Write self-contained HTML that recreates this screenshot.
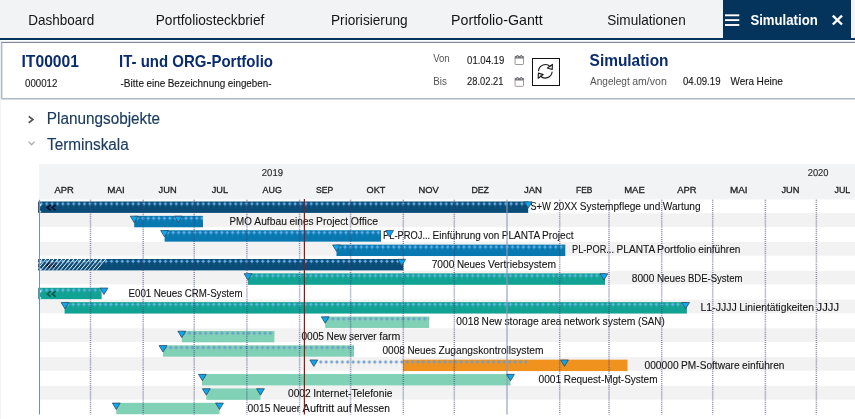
<!DOCTYPE html>
<html lang="de">
<head>
<meta charset="utf-8">
<title>Simulation</title>
<style>
html,body{margin:0;padding:0;background:#ffffff;overflow:hidden}
svg{display:block}
svg text{font-family:'Liberation Sans', sans-serif;white-space:pre}
</style>
</head>
<body>
<svg width="855" height="419" viewBox="0 0 855 419">
<defs>
<pattern id="dD" patternUnits="userSpaceOnUse" x="0.5" y="0" width="5.4" height="7">
<path d="M2.7,-0.2 L3.25,1.75 L5.3,2.3 L3.25,2.85 L2.7,5.0 L2.15,2.85 L0.1,2.3 L2.15,1.75 Z" fill="#ffffff" fill-opacity="0.33"/>
<path d="M2.7,0.65 L4.35,2.3 L2.7,3.95 L1.05,2.3 Z" fill="#64b0ee"/>
<rect x="2.4" y="5.3" width="0.7" height="0.5" fill="#ffffff" fill-opacity="0.22"/>
</pattern>
<pattern id="dL" patternUnits="userSpaceOnUse" x="-0.4" y="0" width="5.4" height="7">
<path d="M2.7,0.35 L4.7,2.35 L2.7,4.35 L0.7,2.35 Z" fill="#8193a6" fill-opacity="0.7"/>
<path d="M2.7,0.95 L4.1,2.35 L2.7,3.75 L1.3,2.35 Z" fill="#5aa1e6"/>
<rect x="2.4" y="5.3" width="0.7" height="0.5" fill="#6a7a88" fill-opacity="0.35"/>
</pattern>
<pattern id="hatch" patternUnits="userSpaceOnUse" width="3.05" height="3.05" patternTransform="rotate(-50)">
<rect x="0" y="0" width="3.05" height="0.8" fill="#ffffff" fill-opacity="0.9"/>
</pattern>
</defs>
<rect x="0" y="0" width="855" height="419" fill="#ffffff"/>
<rect x="0" y="0" width="855" height="38" fill="#f1f3f5"/>
<rect x="0" y="38" width="855" height="2" fill="#04345c"/>
<rect x="723" y="0" width="128" height="40" fill="#04345c"/>
<text x="28.3" y="25.0" font-size="14.2" fill="#141414" textLength="66.0" lengthAdjust="spacingAndGlyphs">Dashboard</text>
<text x="155.7" y="25.0" font-size="14.2" fill="#141414" textLength="108.6" lengthAdjust="spacingAndGlyphs">Portfoliosteckbrief</text>
<text x="331.0" y="25.0" font-size="14.2" fill="#141414" textLength="76.7" lengthAdjust="spacingAndGlyphs">Priorisierung</text>
<text x="451.0" y="25.0" font-size="14.2" fill="#141414" textLength="91.7" lengthAdjust="spacingAndGlyphs">Portfolio-Gantt</text>
<text x="607.3" y="25.0" font-size="14.2" fill="#141414" textLength="78.4" lengthAdjust="spacingAndGlyphs">Simulationen</text>
<text x="750.4" y="25.0" font-size="14.2" font-weight="bold" fill="#ffffff" textLength="67.4" lengthAdjust="spacingAndGlyphs">Simulation</text>
<g stroke="#ffffff" stroke-width="1.9"><line x1="725" y1="15.3" x2="739.3" y2="15.3"/><line x1="725" y1="20.1" x2="739.3" y2="20.1"/><line x1="725" y1="25" x2="739.3" y2="25"/></g>
<g stroke="#ffffff" stroke-width="2.4" stroke-linecap="butt"><line x1="832.8" y1="15.7" x2="842" y2="24.5"/><line x1="842" y1="15.7" x2="832.8" y2="24.5"/></g>
<rect x="0" y="40" width="1" height="379" fill="#f3f4f6"/>
<rect x="1.6" y="42.4" width="870" height="56.4" fill="#ffffff"/>
<rect x="0.9" y="42.4" width="1.5" height="56.4" rx="0.5" fill="#b0b8c4"/>
<rect x="1.4" y="98.0" width="870" height="1.5" rx="0.5" fill="#b0b8c4"/>
<rect x="1.2" y="41.8" width="870" height="1.2" fill="#828a9b"/>
<text x="21.5" y="66.8" font-size="16.5" font-weight="bold" fill="#0a2c6e" textLength="57.5" lengthAdjust="spacingAndGlyphs">IT00001</text>
<text x="25.0" y="86.9" font-size="10.5" fill="#1a1a1a" textLength="32.3" lengthAdjust="spacingAndGlyphs" stroke="#1a1a1a" stroke-width="0.12">000012</text>
<text x="119.0" y="67.0" font-size="16.5" font-weight="bold" fill="#0a2c6e" textLength="154.0" lengthAdjust="spacingAndGlyphs">IT- und ORG-Portfolio</text>
<text y="86.8" font-size="10.5" fill="#161616" stroke="#161616" stroke-width="0.12"><tspan x="120.5" textLength="23.5" lengthAdjust="spacingAndGlyphs">-Bitte</tspan> <tspan x="146.5" textLength="18.7" lengthAdjust="spacingAndGlyphs">eine</tspan> <tspan x="167.7" textLength="57.6" lengthAdjust="spacingAndGlyphs">Bezeichnung</tspan> <tspan x="227.8" textLength="43.7" lengthAdjust="spacingAndGlyphs">eingeben-</tspan></text>
<text x="433.2" y="61.7" font-size="10.2" fill="#555555" textLength="16.5" lengthAdjust="spacingAndGlyphs">Von</text>
<text x="433.2" y="84.6" font-size="10.2" fill="#555555" textLength="13.6" lengthAdjust="spacingAndGlyphs">Bis</text>
<text x="467.1" y="63.5" font-size="10.4" fill="#1a1a1a" textLength="37.1" lengthAdjust="spacingAndGlyphs" stroke="#1a1a1a" stroke-width="0.12">01.04.19</text>
<text x="467.1" y="85.1" font-size="10.4" fill="#1a1a1a" textLength="36.3" lengthAdjust="spacingAndGlyphs" stroke="#1a1a1a" stroke-width="0.12">28.02.21</text>
<text x="589.6" y="66.4" font-size="16.5" font-weight="bold" fill="#0a2c6e" textLength="78.9" lengthAdjust="spacingAndGlyphs">Simulation</text>
<text y="84.8" font-size="10.5" fill="#555555"><tspan x="590.0" textLength="39.7" lengthAdjust="spacingAndGlyphs">Angelegt</tspan> <tspan x="632.2" textLength="34.6" lengthAdjust="spacingAndGlyphs">am/von</tspan></text>
<text x="683.0" y="84.8" font-size="10.5" fill="#161616" textLength="37.5" lengthAdjust="spacingAndGlyphs" stroke="#161616" stroke-width="0.12">04.09.19</text>
<text y="84.8" font-size="10.5" fill="#161616" stroke="#161616" stroke-width="0.12"><tspan x="730.5" textLength="23.6" lengthAdjust="spacingAndGlyphs">Wera</tspan> <tspan x="756.6" textLength="26.4" lengthAdjust="spacingAndGlyphs">Heine</tspan></text>
<g><rect x="515.1" y="57.6" width="8.4" height="6.9" rx="0.7" fill="#ffffff" stroke="#8c8683" stroke-width="0.85"/><rect x="514.7" y="56.1" width="9.2" height="2.5" rx="0.7" fill="#74757b"/><rect x="516.4" y="55.1" width="2.1" height="2.2" rx="0.8" fill="#74757b"/><rect x="520.2" y="55.1" width="2.1" height="2.2" rx="0.8" fill="#74757b"/><rect x="517.0" y="56.2" width="0.9" height="1.5" fill="#a9c3d6"/><rect x="520.8" y="56.2" width="0.9" height="1.5" fill="#d2c79a"/></g>
<g><rect x="515.1" y="79.4" width="8.4" height="6.9" rx="0.7" fill="#ffffff" stroke="#8c8683" stroke-width="0.85"/><rect x="514.7" y="77.9" width="9.2" height="2.5" rx="0.7" fill="#74757b"/><rect x="516.4" y="76.9" width="2.1" height="2.2" rx="0.8" fill="#74757b"/><rect x="520.2" y="76.9" width="2.1" height="2.2" rx="0.8" fill="#74757b"/><rect x="517.0" y="78.0" width="0.9" height="1.5" fill="#a9c3d6"/><rect x="520.8" y="78.0" width="0.9" height="1.5" fill="#d2c79a"/></g>
<rect x="532.5" y="58.5" width="27" height="27" fill="#ffffff" stroke="#111111" stroke-width="1"/>
<g fill="none" stroke="#1c1c1c" stroke-width="1.15" stroke-linecap="round" stroke-linejoin="round"><g id="rf"><path d="M538.5,70.6 A6.9,6.9 0 0 1 550.2,66.6"/><path d="M552.4,64.4 L552.2,69.5 L547.4,68.0 Z"/></g><use href="#rf" transform="rotate(180 545.3 71.3)"/></g>
<polyline points="28.7,116.4 32.9,119.6 28.7,122.8" fill="none" stroke="#505050" stroke-width="1.7"/>
<text x="46.8" y="123.8" font-size="16" fill="#1b3c60" textLength="113.2" lengthAdjust="spacingAndGlyphs" stroke="#1b3c60" stroke-width="0.15">Planungsobjekte</text>
<polyline points="28.6,141.6 31.6,144.8 34.6,141.6" fill="none" stroke="#a8a8a8" stroke-width="1.3"/>
<text x="47.0" y="149.6" font-size="16" fill="#1b3c60" textLength="81.8" lengthAdjust="spacingAndGlyphs" stroke="#1b3c60" stroke-width="0.15">Terminskala</text>
<rect x="39.0" y="164" width="816.0" height="35.4" fill="#f2f3f4"/>
<rect x="39.0" y="213.28" width="816.0" height="13.6" fill="#f2f2f2"/>
<rect x="39.0" y="242.04" width="816.0" height="13.6" fill="#f2f2f2"/>
<rect x="39.0" y="270.80" width="816.0" height="13.6" fill="#f2f2f2"/>
<rect x="39.0" y="299.56" width="816.0" height="13.6" fill="#f2f2f2"/>
<rect x="39.0" y="328.32" width="816.0" height="13.6" fill="#f2f2f2"/>
<rect x="39.0" y="357.08" width="816.0" height="13.6" fill="#f2f2f2"/>
<rect x="39.0" y="385.84" width="816.0" height="13.6" fill="#f2f2f2"/>
<text x="261.8" y="176.1" font-size="10" fill="#1c1c1c" textLength="21.2" lengthAdjust="spacingAndGlyphs" text-rendering="geometricPrecision" stroke="#1c1c1c" stroke-width="0.1">2019</text>
<text x="807.7" y="176.1" font-size="10" fill="#1c1c1c" textLength="20.8" lengthAdjust="spacingAndGlyphs" text-rendering="geometricPrecision" stroke="#1c1c1c" stroke-width="0.1">2020</text>
<text x="54.6" y="192.6" font-size="9.5" fill="#222222" textLength="19.3" lengthAdjust="spacingAndGlyphs" stroke="#222222" stroke-width="0.3">APR</text>
<text x="107.2" y="192.6" font-size="9.5" fill="#222222" textLength="17.5" lengthAdjust="spacingAndGlyphs" stroke="#222222" stroke-width="0.3">MAI</text>
<text x="158.6" y="192.6" font-size="9.5" fill="#222222" textLength="18.0" lengthAdjust="spacingAndGlyphs" stroke="#222222" stroke-width="0.3">JUN</text>
<text x="211.7" y="192.6" font-size="9.5" fill="#222222" textLength="16.3" lengthAdjust="spacingAndGlyphs" stroke="#222222" stroke-width="0.3">JUL</text>
<text x="262.6" y="192.6" font-size="9.5" fill="#222222" textLength="19.3" lengthAdjust="spacingAndGlyphs" stroke="#222222" stroke-width="0.3">AUG</text>
<text x="316.0" y="192.6" font-size="9.5" fill="#222222" textLength="17.3" lengthAdjust="spacingAndGlyphs" stroke="#222222" stroke-width="0.3">SEP</text>
<text x="366.6" y="192.6" font-size="9.5" fill="#222222" textLength="18.8" lengthAdjust="spacingAndGlyphs" stroke="#222222" stroke-width="0.3">OKT</text>
<text x="418.5" y="192.6" font-size="9.5" fill="#222222" textLength="20.3" lengthAdjust="spacingAndGlyphs" stroke="#222222" stroke-width="0.3">NOV</text>
<text x="471.4" y="192.6" font-size="9.5" fill="#222222" textLength="17.5" lengthAdjust="spacingAndGlyphs" stroke="#222222" stroke-width="0.3">DEZ</text>
<text x="524.0" y="192.6" font-size="9.5" fill="#222222" textLength="18.0" lengthAdjust="spacingAndGlyphs" stroke="#222222" stroke-width="0.3">JAN</text>
<text x="576.1" y="192.6" font-size="9.5" fill="#222222" textLength="16.3" lengthAdjust="spacingAndGlyphs" stroke="#222222" stroke-width="0.3">FEB</text>
<text x="624.2" y="192.6" font-size="9.5" fill="#222222" textLength="20.6" lengthAdjust="spacingAndGlyphs" stroke="#222222" stroke-width="0.3">MAE</text>
<text x="677.3" y="192.6" font-size="9.5" fill="#222222" textLength="19.3" lengthAdjust="spacingAndGlyphs" stroke="#222222" stroke-width="0.3">APR</text>
<text x="730.0" y="192.6" font-size="9.5" fill="#222222" textLength="17.5" lengthAdjust="spacingAndGlyphs" stroke="#222222" stroke-width="0.3">MAI</text>
<text x="781.4" y="192.6" font-size="9.5" fill="#222222" textLength="18.0" lengthAdjust="spacingAndGlyphs" stroke="#222222" stroke-width="0.3">JUN</text>
<text x="834.5" y="192.6" font-size="9.5" fill="#222222" textLength="15.8" lengthAdjust="spacingAndGlyphs" stroke="#222222" stroke-width="0.3">JUL</text>
<rect x="38.1" y="201.50" width="490.1" height="11.4" fill="#0a4c78"/>
<svg x="38.1" y="201.50" width="490.1" height="7"><rect x="0" y="0" width="1000" height="7" fill="url(#dD)"/></svg>
<g fill="none" stroke="#06122a" stroke-width="1.6"><polyline points="50.7,204.9 47.2,207.6 50.7,210.3"/><polyline points="55.7,204.9 52.2,207.6 55.7,210.3"/></g>
<path d="M39.9,204.1 L41.7,204.4 L39.9,206.9 Z M39.9,209.9 L41.6,212.2 L39.9,212.4 Z" fill="#ffffff" fill-opacity="0.85"/>
<text y="210.3" font-size="10" fill="#141414" stroke="#141414" stroke-width="0.1"><tspan x="530.3" textLength="20.6" lengthAdjust="spacingAndGlyphs">S+W</tspan> <tspan x="553.4" textLength="23.9" lengthAdjust="spacingAndGlyphs">20XX</tspan> <tspan x="579.8" textLength="61.2" lengthAdjust="spacingAndGlyphs">Systempflege</tspan> <tspan x="643.5" textLength="16.8" lengthAdjust="spacingAndGlyphs">und</tspan> <tspan x="662.8" textLength="37.8" lengthAdjust="spacingAndGlyphs">Wartung</tspan></text>
<rect x="134.2" y="215.88" width="68.8" height="11.4" fill="#0878b0"/>
<svg x="134.2" y="215.88" width="68.8" height="7"><rect x="0" y="0" width="1000" height="7" fill="url(#dD)"/></svg>
<text y="224.7" font-size="10" fill="#141414" stroke="#141414" stroke-width="0.1"><tspan x="229.5" textLength="22.3" lengthAdjust="spacingAndGlyphs">PMO</tspan> <tspan x="254.3" textLength="32.6" lengthAdjust="spacingAndGlyphs">Aufbau</tspan> <tspan x="289.5" textLength="24.1" lengthAdjust="spacingAndGlyphs">eines</tspan> <tspan x="316.1" textLength="32.1" lengthAdjust="spacingAndGlyphs">Project</tspan> <tspan x="350.8" textLength="27.2" lengthAdjust="spacingAndGlyphs">Office</tspan></text>
<rect x="164.6" y="230.26" width="216.4" height="11.4" fill="#0878b0"/>
<svg x="164.6" y="230.26" width="216.4" height="7"><rect x="0" y="0" width="1000" height="7" fill="url(#dD)"/></svg>
<text y="239.1" font-size="10" fill="#141414" stroke="#141414" stroke-width="0.1"><tspan x="383.0" textLength="47.2" lengthAdjust="spacingAndGlyphs">PL-PROJ...</tspan> <tspan x="432.6" textLength="48.1" lengthAdjust="spacingAndGlyphs">Einführung</tspan> <tspan x="483.2" textLength="16.1" lengthAdjust="spacingAndGlyphs">von</tspan> <tspan x="501.8" textLength="37.8" lengthAdjust="spacingAndGlyphs">PLANTA</tspan> <tspan x="542.0" textLength="31.6" lengthAdjust="spacingAndGlyphs">Project</tspan></text>
<rect x="336.5" y="244.64" width="228.8" height="11.4" fill="#0878b0"/>
<svg x="336.5" y="244.64" width="228.8" height="7"><rect x="0" y="0" width="1000" height="7" fill="url(#dD)"/></svg>
<text y="253.4" font-size="10" fill="#141414" stroke="#141414" stroke-width="0.1"><tspan x="572.0" textLength="42.0" lengthAdjust="spacingAndGlyphs">PL-POR...</tspan> <tspan x="616.5" textLength="38.1" lengthAdjust="spacingAndGlyphs">PLANTA</tspan> <tspan x="657.1" textLength="38.7" lengthAdjust="spacingAndGlyphs">Portfolio</tspan> <tspan x="698.3" textLength="42.2" lengthAdjust="spacingAndGlyphs">einführen</tspan></text>
<rect x="38.1" y="259.02" width="365.3" height="11.4" fill="#0a4c78"/>
<svg x="38.1" y="259.02" width="365.3" height="7"><rect x="0" y="0" width="1000" height="7" fill="url(#dD)"/></svg>
<g fill="none" stroke="#1a1030" stroke-width="1.6"><polyline points="50.7,262.4 47.2,265.1 50.7,267.8"/><polyline points="55.7,262.4 52.2,265.1 55.7,267.8"/></g>
<path d="M39.9,261.6 L41.7,261.9 L39.9,264.4 Z M39.9,267.4 L41.6,269.7 L39.9,269.9 Z" fill="#ffffff" fill-opacity="0.85"/>
<path d="M38.1,259.02 L106.8,259.02 L97.2,270.42 L38.1,270.42 Z" fill="url(#hatch)"/>
<text y="267.8" font-size="10" fill="#141414" stroke="#141414" stroke-width="0.1"><tspan x="431.7" textLength="22.7" lengthAdjust="spacingAndGlyphs">7000</tspan> <tspan x="456.9" textLength="28.6" lengthAdjust="spacingAndGlyphs">Neues</tspan> <tspan x="488.0" textLength="68.0" lengthAdjust="spacingAndGlyphs">Vertriebsystem</tspan></text>
<rect x="248.0" y="273.40" width="357.0" height="11.4" fill="#10a394"/>
<svg x="248.0" y="273.40" width="357.0" height="7"><rect x="0" y="0" width="1000" height="7" fill="url(#dD)"/></svg>
<text y="282.2" font-size="10" fill="#141414" stroke="#141414" stroke-width="0.1"><tspan x="631.8" textLength="22.6" lengthAdjust="spacingAndGlyphs">8000</tspan> <tspan x="656.9" textLength="28.5" lengthAdjust="spacingAndGlyphs">Neues</tspan> <tspan x="687.9" textLength="54.6" lengthAdjust="spacingAndGlyphs">BDE-System</tspan></text>
<rect x="38.1" y="287.78" width="63.5" height="11.4" fill="#10a394"/>
<svg x="38.1" y="287.78" width="63.5" height="7"><rect x="0" y="0" width="1000" height="7" fill="url(#dD)"/></svg>
<g fill="none" stroke="#0a5a48" stroke-width="1.6"><polyline points="50.7,291.2 47.2,293.9 50.7,296.6"/><polyline points="55.7,291.2 52.2,293.9 55.7,296.6"/></g>
<path d="M39.9,290.4 L41.7,290.7 L39.9,293.2 Z M39.9,296.2 L41.6,298.5 L39.9,298.7 Z" fill="#ffffff" fill-opacity="0.85"/>
<text y="296.6" font-size="10" fill="#141414" stroke="#141414" stroke-width="0.1"><tspan x="128.5" textLength="22.7" lengthAdjust="spacingAndGlyphs">E001</tspan> <tspan x="153.7" textLength="28.6" lengthAdjust="spacingAndGlyphs">Neues</tspan> <tspan x="184.8" textLength="57.7" lengthAdjust="spacingAndGlyphs">CRM-System</tspan></text>
<rect x="64.6" y="302.16" width="622.3" height="11.4" fill="#10a394"/>
<svg x="64.6" y="302.16" width="622.3" height="7"><rect x="0" y="0" width="1000" height="7" fill="url(#dD)"/></svg>
<text y="311.0" font-size="10" fill="#141414" stroke="#141414" stroke-width="0.1"><tspan x="700.4" textLength="36.4" lengthAdjust="spacingAndGlyphs">L1-JJJJ</tspan> <tspan x="739.3" textLength="74.7" lengthAdjust="spacingAndGlyphs">Linientätigkeiten</tspan> <tspan x="816.6" textLength="22.4" lengthAdjust="spacingAndGlyphs">JJJJ</tspan></text>
<rect x="325.2" y="316.54" width="104.0" height="11.4" fill="#80d1b6"/>
<svg x="325.2" y="316.54" width="104.0" height="7"><rect x="0" y="0" width="1000" height="7" fill="url(#dL)"/></svg>
<text y="325.3" font-size="10" fill="#141414" stroke="#141414" stroke-width="0.1"><tspan x="456.3" textLength="22.8" lengthAdjust="spacingAndGlyphs">0018</tspan> <tspan x="481.6" textLength="20.3" lengthAdjust="spacingAndGlyphs">New</tspan> <tspan x="504.4" textLength="34.4" lengthAdjust="spacingAndGlyphs">storage</tspan> <tspan x="541.3" textLength="19.9" lengthAdjust="spacingAndGlyphs">area</tspan> <tspan x="563.7" textLength="36.3" lengthAdjust="spacingAndGlyphs">network</tspan> <tspan x="602.5" textLength="32.9" lengthAdjust="spacingAndGlyphs">system</tspan> <tspan x="637.9" textLength="26.9" lengthAdjust="spacingAndGlyphs">(SAN)</tspan></text>
<rect x="181.8" y="330.92" width="92.6" height="11.4" fill="#80d1b6"/>
<svg x="181.8" y="330.92" width="92.6" height="7"><rect x="0" y="0" width="1000" height="7" fill="url(#dL)"/></svg>
<text y="339.7" font-size="10" fill="#141414" stroke="#141414" stroke-width="0.1"><tspan x="301.4" textLength="22.6" lengthAdjust="spacingAndGlyphs">0005</tspan> <tspan x="326.5" textLength="20.1" lengthAdjust="spacingAndGlyphs">New</tspan> <tspan x="349.1" textLength="27.6" lengthAdjust="spacingAndGlyphs">server</tspan> <tspan x="379.2" textLength="21.2" lengthAdjust="spacingAndGlyphs">farm</tspan></text>
<rect x="163.0" y="345.30" width="191.0" height="11.4" fill="#80d1b6"/>
<svg x="163.0" y="345.30" width="191.0" height="7"><rect x="0" y="0" width="1000" height="7" fill="url(#dL)"/></svg>
<text y="354.1" font-size="10" fill="#141414" stroke="#141414" stroke-width="0.1"><tspan x="382.4" textLength="22.5" lengthAdjust="spacingAndGlyphs">0008</tspan> <tspan x="407.4" textLength="28.5" lengthAdjust="spacingAndGlyphs">Neues</tspan> <tspan x="438.4" textLength="105.1" lengthAdjust="spacingAndGlyphs">Zugangskontrollsystem</tspan></text>
<rect x="403.0" y="359.68" width="224.5" height="11.4" fill="#f0921e"/>
<svg x="313.1" y="359.68" width="213.9" height="7"><rect x="0" y="0" width="1000" height="7" fill="url(#dL)"/></svg>
<text y="368.5" font-size="10" fill="#141414" stroke="#141414" stroke-width="0.1"><tspan x="644.5" textLength="34.1" lengthAdjust="spacingAndGlyphs">000000</tspan> <tspan x="681.1" textLength="58.5" lengthAdjust="spacingAndGlyphs">PM-Software</tspan> <tspan x="742.1" textLength="42.4" lengthAdjust="spacingAndGlyphs">einführen</tspan></text>
<rect x="202.0" y="374.06" width="308.5" height="11.4" fill="#80d1b6"/>
<text y="382.9" font-size="10" fill="#141414" stroke="#141414" stroke-width="0.1"><tspan x="538.5" textLength="22.7" lengthAdjust="spacingAndGlyphs">0001</tspan> <tspan x="563.7" textLength="93.8" lengthAdjust="spacingAndGlyphs">Request-Mgt-System</tspan></text>
<rect x="206.3" y="388.44" width="54.2" height="11.4" fill="#80d1b6"/>
<text y="397.2" font-size="10" fill="#141414" stroke="#141414" stroke-width="0.1"><tspan x="288.0" textLength="22.7" lengthAdjust="spacingAndGlyphs">0002</tspan> <tspan x="313.2" textLength="79.3" lengthAdjust="spacingAndGlyphs">Internet-Telefonie</tspan></text>
<rect x="116.3" y="402.82" width="103.2" height="11.4" fill="#80d1b6"/>
<text y="411.6" font-size="10" fill="#141414" stroke="#141414" stroke-width="0.1"><tspan x="247.5" textLength="22.9" lengthAdjust="spacingAndGlyphs">0015</tspan> <tspan x="272.9" textLength="27.2" lengthAdjust="spacingAndGlyphs">Neuer</tspan> <tspan x="302.6" textLength="31.7" lengthAdjust="spacingAndGlyphs">Auftritt</tspan> <tspan x="336.9" textLength="14.7" lengthAdjust="spacingAndGlyphs">auf</tspan> <tspan x="354.1" textLength="35.9" lengthAdjust="spacingAndGlyphs">Messen</tspan></text>
<line x1="39.5" y1="199.8" x2="39.5" y2="414.5" stroke="#7d8cab" stroke-width="1"/>
<line x1="90.5" y1="199.8" x2="90.5" y2="414.5" stroke="#3a4478" stroke-width="1.5" stroke-dasharray="1 1.06" stroke-opacity="0.62"/>
<line x1="143.2" y1="199.8" x2="143.2" y2="414.5" stroke="#3a4478" stroke-width="1.5" stroke-dasharray="1 1.06" stroke-opacity="0.62"/>
<line x1="194.2" y1="199.8" x2="194.2" y2="414.5" stroke="#3a4478" stroke-width="1.5" stroke-dasharray="1 1.06" stroke-opacity="0.62"/>
<line x1="246.9" y1="199.8" x2="246.9" y2="414.5" stroke="#3a4478" stroke-width="1.5" stroke-dasharray="1 1.06" stroke-opacity="0.62"/>
<line x1="299.6" y1="199.8" x2="299.6" y2="414.5" stroke="#3a4478" stroke-width="1.5" stroke-dasharray="1 1.06" stroke-opacity="0.62"/>
<line x1="350.6" y1="199.8" x2="350.6" y2="414.5" stroke="#3a4478" stroke-width="1.5" stroke-dasharray="1 1.06" stroke-opacity="0.62"/>
<line x1="403.3" y1="199.8" x2="403.3" y2="414.5" stroke="#3a4478" stroke-width="1.5" stroke-dasharray="1 1.06" stroke-opacity="0.62"/>
<line x1="454.3" y1="199.8" x2="454.3" y2="414.5" stroke="#3a4478" stroke-width="1.5" stroke-dasharray="1 1.06" stroke-opacity="0.62"/>
<line x1="507.0" y1="199.8" x2="507.0" y2="414.5" stroke="#8f9bb8" stroke-width="1.1"/>
<line x1="559.7" y1="199.8" x2="559.7" y2="414.5" stroke="#3a4478" stroke-width="1.5" stroke-dasharray="1 1.06" stroke-opacity="0.62"/>
<line x1="609.0" y1="199.8" x2="609.0" y2="414.5" stroke="#3a4478" stroke-width="1.5" stroke-dasharray="1 1.06" stroke-opacity="0.62"/>
<line x1="661.7" y1="199.8" x2="661.7" y2="414.5" stroke="#3a4478" stroke-width="1.5" stroke-dasharray="1 1.06" stroke-opacity="0.62"/>
<line x1="712.7" y1="199.8" x2="712.7" y2="414.5" stroke="#3a4478" stroke-width="1.5" stroke-dasharray="1 1.06" stroke-opacity="0.62"/>
<line x1="765.4" y1="199.8" x2="765.4" y2="414.5" stroke="#3a4478" stroke-width="1.5" stroke-dasharray="1 1.06" stroke-opacity="0.62"/>
<line x1="816.4" y1="199.8" x2="816.4" y2="414.5" stroke="#3a4478" stroke-width="1.5" stroke-dasharray="1 1.06" stroke-opacity="0.62"/>
<line x1="304.4" y1="199.0" x2="304.4" y2="414.5" stroke="#8c1a1a" stroke-width="1.2"/>
<path d="M524.3,201.80 L532.1,201.80 L528.2,208.20 Z" fill="#08a9f4" stroke="#34485c" stroke-width="0.8" stroke-linejoin="round"/>
<path d="M130.3,216.18 L138.1,216.18 L134.2,222.58 Z" fill="#08a9f4" stroke="#34485c" stroke-width="0.8" stroke-linejoin="round"/>
<path d="M174.5,216.18 L182.3,216.18 L178.4,222.58 Z" fill="#08a9f4" stroke="#34485c" stroke-width="0.8" stroke-linejoin="round"/>
<path d="M160.7,230.56 L168.5,230.56 L164.6,236.96 Z" fill="#08a9f4" stroke="#34485c" stroke-width="0.8" stroke-linejoin="round"/>
<path d="M385.7,230.56 L393.5,230.56 L389.6,236.96 Z" fill="#08a9f4" stroke="#34485c" stroke-width="0.8" stroke-linejoin="round"/>
<path d="M332.6,244.94 L340.4,244.94 L336.5,251.34 Z" fill="#08a9f4" stroke="#34485c" stroke-width="0.8" stroke-linejoin="round"/>
<path d="M397.8,259.32 L405.6,259.32 L401.7,265.72 Z" fill="#08a9f4" stroke="#34485c" stroke-width="0.8" stroke-linejoin="round"/>
<path d="M244.1,273.70 L251.9,273.70 L248.0,280.10 Z" fill="#08a9f4" stroke="#34485c" stroke-width="0.8" stroke-linejoin="round"/>
<path d="M600.0,273.70 L607.8,273.70 L603.9,280.10 Z" fill="#08a9f4" stroke="#34485c" stroke-width="0.8" stroke-linejoin="round"/>
<path d="M100.1,288.08 L107.9,288.08 L104.0,294.48 Z" fill="#08a9f4" stroke="#34485c" stroke-width="0.8" stroke-linejoin="round"/>
<path d="M61.1,302.46 L68.9,302.46 L65.0,308.86 Z" fill="#08a9f4" stroke="#34485c" stroke-width="0.8" stroke-linejoin="round"/>
<path d="M681.7,302.46 L689.5,302.46 L685.6,308.86 Z" fill="#08a9f4" stroke="#34485c" stroke-width="0.8" stroke-linejoin="round"/>
<path d="M321.3,316.84 L329.1,316.84 L325.2,323.24 Z" fill="#08a9f4" stroke="#34485c" stroke-width="0.8" stroke-linejoin="round"/>
<path d="M177.9,331.22 L185.7,331.22 L181.8,337.62 Z" fill="#08a9f4" stroke="#34485c" stroke-width="0.8" stroke-linejoin="round"/>
<path d="M159.1,345.60 L166.9,345.60 L163.0,352.00 Z" fill="#08a9f4" stroke="#34485c" stroke-width="0.8" stroke-linejoin="round"/>
<path d="M309.9,359.98 L317.7,359.98 L313.8,366.38 Z" fill="#08a9f4" stroke="#34485c" stroke-width="0.8" stroke-linejoin="round"/>
<path d="M560.6,359.98 L568.4,359.98 L564.5,366.38 Z" fill="#08a9f4" stroke="#34485c" stroke-width="0.8" stroke-linejoin="round"/>
<path d="M198.5,374.36 L206.3,374.36 L202.4,380.76 Z" fill="#08a9f4" stroke="#34485c" stroke-width="0.8" stroke-linejoin="round"/>
<path d="M506.6,374.36 L514.4,374.36 L510.5,380.76 Z" fill="#08a9f4" stroke="#34485c" stroke-width="0.8" stroke-linejoin="round"/>
<path d="M202.4,388.74 L210.2,388.74 L206.3,395.14 Z" fill="#08a9f4" stroke="#34485c" stroke-width="0.8" stroke-linejoin="round"/>
<path d="M256.6,388.74 L264.4,388.74 L260.5,395.14 Z" fill="#08a9f4" stroke="#34485c" stroke-width="0.8" stroke-linejoin="round"/>
<path d="M112.4,403.12 L120.2,403.12 L116.3,409.52 Z" fill="#08a9f4" stroke="#34485c" stroke-width="0.8" stroke-linejoin="round"/>
<path d="M215.6,403.12 L223.4,403.12 L219.5,409.52 Z" fill="#08a9f4" stroke="#34485c" stroke-width="0.8" stroke-linejoin="round"/>
</svg>
</body>
</html>
